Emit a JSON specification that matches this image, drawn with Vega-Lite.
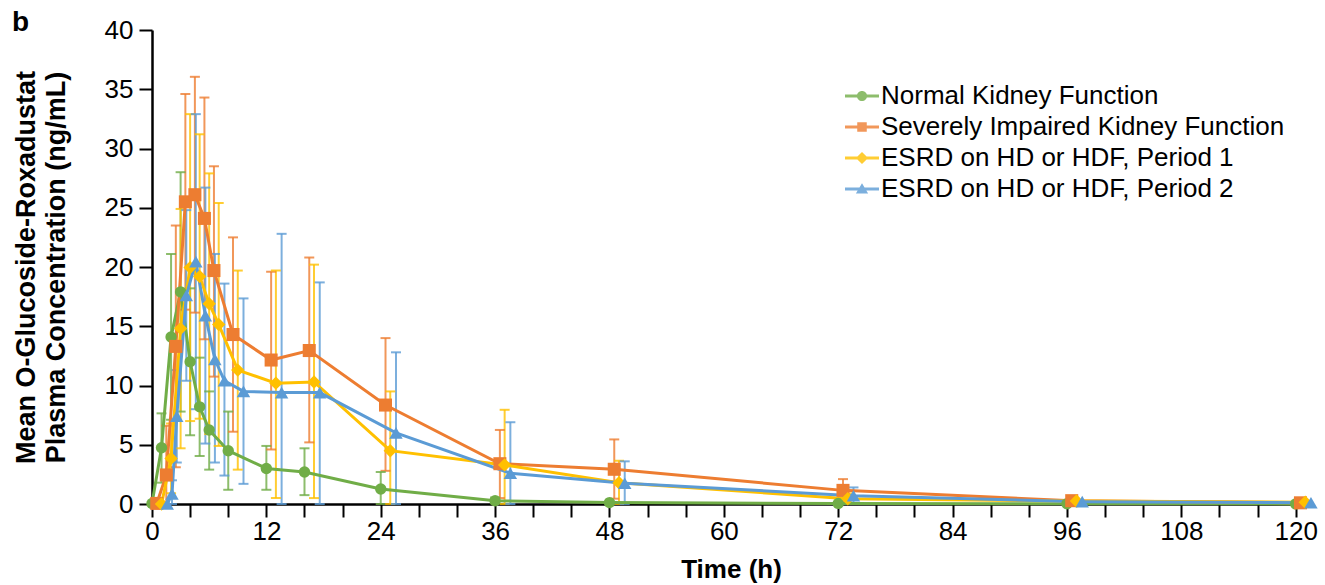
{
  "$schema": "https://vega.github.io/schema/vega-lite/v6.json",
  "width": 1158,
  "height": 474,
  "autosize": {"type": "none"},
  "padding": {"left": 152, "top": 30, "right": 15, "bottom": 81},
  "title": {"text": "b", "anchor": "start", "frame": "bounds", "fontSize": 28, "fontWeight": "bold", "font": "Liberation Sans", "offset": -20, "color": "#000"},
  "config": {
    "view": {"stroke": null},
    "font": "Liberation Sans",
    "axis": {"grid": false, "labelFlush": false, "domainColor": "#000", "tickColor": "#000", "labelColor": "#000", "titleColor": "#000", "domainWidth": 2.5, "tickWidth": 2, "tickSize": 13, "labelFontSize": 26, "titleFontSize": 26, "titleFontWeight": "bold", "labelFont": "Liberation Sans", "titleFont": "Liberation Sans"}
  },
  "data": {"values": [
    {"group": "Normal Kidney Function", "time": 0, "mean": 0.05, "lo": null, "hi": null},
    {"group": "Normal Kidney Function", "time": 1, "mean": 4.75, "lo": 1.8, "hi": 7.65},
    {"group": "Normal Kidney Function", "time": 2, "mean": 14.1, "lo": 7.1, "hi": 21.1},
    {"group": "Normal Kidney Function", "time": 3, "mean": 17.9, "lo": 7.8, "hi": 28.0},
    {"group": "Normal Kidney Function", "time": 4, "mean": 12.0, "lo": 5.8, "hi": 18.2},
    {"group": "Normal Kidney Function", "time": 5, "mean": 8.2, "lo": 4.05, "hi": 12.35},
    {"group": "Normal Kidney Function", "time": 6, "mean": 6.25, "lo": 2.9, "hi": 9.5},
    {"group": "Normal Kidney Function", "time": 8, "mean": 4.5, "lo": 1.2, "hi": 7.8},
    {"group": "Normal Kidney Function", "time": 12, "mean": 3.0, "lo": 1.2, "hi": 4.9},
    {"group": "Normal Kidney Function", "time": 16, "mean": 2.7, "lo": 0.75, "hi": 4.7},
    {"group": "Normal Kidney Function", "time": 24, "mean": 1.27, "lo": 0, "hi": 2.7},
    {"group": "Normal Kidney Function", "time": 36, "mean": 0.28, "lo": 0.05, "hi": 0.55},
    {"group": "Normal Kidney Function", "time": 48, "mean": 0.12, "lo": null, "hi": null},
    {"group": "Normal Kidney Function", "time": 72, "mean": 0.05, "lo": null, "hi": null},
    {"group": "Normal Kidney Function", "time": 96, "mean": 0.02, "lo": null, "hi": null},
    {"group": "Normal Kidney Function", "time": 120, "mean": 0.01, "lo": null, "hi": null},
    {"group": "Severely Impaired Kidney Function", "time": 0.5, "mean": 0.05, "lo": null, "hi": null},
    {"group": "Severely Impaired Kidney Function", "time": 1.5, "mean": 2.45, "lo": 0, "hi": 6.6},
    {"group": "Severely Impaired Kidney Function", "time": 2.5, "mean": 13.3, "lo": 3.1, "hi": 23.5},
    {"group": "Severely Impaired Kidney Function", "time": 3.5, "mean": 25.5, "lo": 16.4, "hi": 34.6},
    {"group": "Severely Impaired Kidney Function", "time": 4.5, "mean": 26.1, "lo": 16.15, "hi": 36.05},
    {"group": "Severely Impaired Kidney Function", "time": 5.5, "mean": 24.1, "lo": 13.9, "hi": 34.3},
    {"group": "Severely Impaired Kidney Function", "time": 6.5, "mean": 19.7, "lo": 10.75, "hi": 28.5},
    {"group": "Severely Impaired Kidney Function", "time": 8.5, "mean": 14.3, "lo": 6.1, "hi": 22.5},
    {"group": "Severely Impaired Kidney Function", "time": 12.5, "mean": 12.15, "lo": 4.6, "hi": 19.6},
    {"group": "Severely Impaired Kidney Function", "time": 16.5, "mean": 12.95, "lo": 5.2, "hi": 20.8},
    {"group": "Severely Impaired Kidney Function", "time": 24.5, "mean": 8.35, "lo": 2.8, "hi": 14.0},
    {"group": "Severely Impaired Kidney Function", "time": 36.5, "mean": 3.4, "lo": 0.5, "hi": 6.25},
    {"group": "Severely Impaired Kidney Function", "time": 48.5, "mean": 2.93, "lo": 0.45, "hi": 5.45},
    {"group": "Severely Impaired Kidney Function", "time": 72.5, "mean": 1.15, "lo": 0.2, "hi": 2.1},
    {"group": "Severely Impaired Kidney Function", "time": 96.5, "mean": 0.28, "lo": null, "hi": null},
    {"group": "Severely Impaired Kidney Function", "time": 120.5, "mean": 0.1, "lo": null, "hi": null},
    {"group": "ESRD on HD or HDF, Period 1", "time": 1, "mean": 0.0, "lo": null, "hi": null},
    {"group": "ESRD on HD or HDF, Period 1", "time": 2, "mean": 3.85, "lo": 0.9, "hi": 6.8},
    {"group": "ESRD on HD or HDF, Period 1", "time": 3, "mean": 14.8, "lo": 4.7, "hi": 24.9},
    {"group": "ESRD on HD or HDF, Period 1", "time": 4, "mean": 19.95, "lo": 7.0, "hi": 32.9},
    {"group": "ESRD on HD or HDF, Period 1", "time": 5, "mean": 19.2, "lo": 7.2, "hi": 31.2},
    {"group": "ESRD on HD or HDF, Period 1", "time": 6, "mean": 16.9, "lo": 5.9, "hi": 27.9},
    {"group": "ESRD on HD or HDF, Period 1", "time": 7, "mean": 15.15, "lo": 4.9, "hi": 25.4},
    {"group": "ESRD on HD or HDF, Period 1", "time": 9, "mean": 11.3, "lo": 2.9, "hi": 19.7},
    {"group": "ESRD on HD or HDF, Period 1", "time": 13, "mean": 10.2, "lo": 0.5, "hi": 19.7},
    {"group": "ESRD on HD or HDF, Period 1", "time": 17, "mean": 10.3, "lo": 0.5, "hi": 20.2},
    {"group": "ESRD on HD or HDF, Period 1", "time": 25, "mean": 4.5, "lo": 0, "hi": 9.5},
    {"group": "ESRD on HD or HDF, Period 1", "time": 37, "mean": 3.3, "lo": 0, "hi": 7.95},
    {"group": "ESRD on HD or HDF, Period 1", "time": 49, "mean": 1.8, "lo": 0, "hi": 3.65},
    {"group": "ESRD on HD or HDF, Period 1", "time": 73, "mean": 0.45, "lo": 0.05, "hi": 0.9},
    {"group": "ESRD on HD or HDF, Period 1", "time": 97, "mean": 0.25, "lo": null, "hi": null},
    {"group": "ESRD on HD or HDF, Period 1", "time": 121, "mean": 0.15, "lo": null, "hi": null},
    {"group": "ESRD on HD or HDF, Period 2", "time": 1.6, "mean": 0.0, "lo": null, "hi": null},
    {"group": "ESRD on HD or HDF, Period 2", "time": 2.1, "mean": 0.85, "lo": 0, "hi": 2.0},
    {"group": "ESRD on HD or HDF, Period 2", "time": 2.6, "mean": 7.4, "lo": 3.5, "hi": 11.3},
    {"group": "ESRD on HD or HDF, Period 2", "time": 3.6, "mean": 17.6, "lo": 10.4, "hi": 24.8},
    {"group": "ESRD on HD or HDF, Period 2", "time": 4.6, "mean": 20.45, "lo": 8.0, "hi": 32.9},
    {"group": "ESRD on HD or HDF, Period 2", "time": 5.6, "mean": 15.9, "lo": 5.1, "hi": 26.7},
    {"group": "ESRD on HD or HDF, Period 2", "time": 6.6, "mean": 12.2, "lo": 3.5, "hi": 21.1},
    {"group": "ESRD on HD or HDF, Period 2", "time": 7.6, "mean": 10.4, "lo": 2.4, "hi": 18.6},
    {"group": "ESRD on HD or HDF, Period 2", "time": 9.6, "mean": 9.5, "lo": 1.7, "hi": 17.35},
    {"group": "ESRD on HD or HDF, Period 2", "time": 13.6, "mean": 9.4, "lo": 0, "hi": 22.8},
    {"group": "ESRD on HD or HDF, Period 2", "time": 17.6, "mean": 9.4, "lo": 0, "hi": 18.7},
    {"group": "ESRD on HD or HDF, Period 2", "time": 25.6, "mean": 6.0, "lo": 0, "hi": 12.8},
    {"group": "ESRD on HD or HDF, Period 2", "time": 37.6, "mean": 2.6, "lo": 0, "hi": 6.9},
    {"group": "ESRD on HD or HDF, Period 2", "time": 49.6, "mean": 1.75, "lo": 0, "hi": 3.6},
    {"group": "ESRD on HD or HDF, Period 2", "time": 73.6, "mean": 0.7, "lo": 0, "hi": 1.4},
    {"group": "ESRD on HD or HDF, Period 2", "time": 97.6, "mean": 0.2, "lo": null, "hi": null},
    {"group": "ESRD on HD or HDF, Period 2", "time": 121.6, "mean": 0.1, "lo": null, "hi": null}
  ]},
  "encoding": {
    "x": {"field": "time", "type": "quantitative", "scale": {"domain": [0, 121.5], "nice": false},
      "axis": {"title": "Time (h)", "values": [0,4,8,12,16,20,24,28,32,36,40,44,48,52,56,60,64,68,72,76,80,84,88,92,96,100,104,108,112,116,120], "labelExpr": "datum.value % 12 === 0 ? datum.label : ''", "labelOverlap": false, "labelPadding": 1, "titlePadding": 12}},
    "color": {"field": "group", "type": "nominal",
      "scale": {"domain": ["Normal Kidney Function", "Severely Impaired Kidney Function", "ESRD on HD or HDF, Period 1", "ESRD on HD or HDF, Period 2"], "range": ["#70AD47", "#ED7D31", "#FFC000", "#5B9BD5"]},
      "legend": {"title": null, "orient": "none", "legendX": 693, "legendY": 49, "padding": 0, "labelFontSize": 26, "labelFont": "Liberation Sans", "labelColor": "#000", "symbolSize": 1156, "symbolStrokeWidth": 0, "rowPadding": 1, "labelOffset": 2, "labelLimit": 600}}
  },
  "layer": [
    {"mark": {"type": "rule", "strokeWidth": 2, "opacity": 0.8},
     "encoding": {"y": {"field": "lo", "type": "quantitative"}, "y2": {"field": "hi"}}},
    {"mark": {"type": "tick", "orient": "horizontal", "size": 10, "thickness": 2, "opacity": 0.8},
     "encoding": {"y": {"field": "lo", "type": "quantitative"}}},
    {"mark": {"type": "tick", "orient": "horizontal", "size": 10, "thickness": 2, "opacity": 0.8},
     "encoding": {"y": {"field": "hi", "type": "quantitative"}}},
    {"mark": {"type": "line", "strokeWidth": 3},
     "encoding": {"y": {"field": "mean", "type": "quantitative", "scale": {"domain": [0, 40], "nice": false},
       "axis": {"title": ["Mean O-Glucoside-Roxadustat", "Plasma Concentration (ng/mL)"], "values": [0,5,10,15,20,25,30,35,40], "titlePadding": 34, "titleLineHeight": 30, "titleFontSize": 27, "labelPadding": 6}}}},
    {"transform": [{"filter": "datum.group === 'Normal Kidney Function'"}],
     "mark": {"type": "point", "filled": true, "opacity": 1, "shape": "circle", "size": 130},
     "encoding": {"y": {"field": "mean", "type": "quantitative"}}},
    {"transform": [{"filter": "datum.group === 'Severely Impaired Kidney Function'"}],
     "mark": {"type": "point", "filled": true, "opacity": 1, "shape": "square", "size": 170},
     "encoding": {"y": {"field": "mean", "type": "quantitative"}}},
    {"transform": [{"filter": "datum.group === 'ESRD on HD or HDF, Period 1'"}],
     "mark": {"type": "point", "filled": true, "opacity": 1, "shape": "diamond", "size": 180},
     "encoding": {"y": {"field": "mean", "type": "quantitative"}}},
    {"transform": [{"filter": "datum.group === 'ESRD on HD or HDF, Period 2'"}],
     "mark": {"type": "point", "filled": true, "opacity": 1, "shape": "triangle-up", "size": 180},
     "encoding": {"y": {"field": "mean", "type": "quantitative"}}},
    {"transform": [{"filter": "false"}],
     "mark": {"type": "point", "filled": true, "opacity": 1},
     "encoding": {"y": {"field": "mean", "type": "quantitative"},
       "shape": {"field": "group", "type": "nominal",
         "scale": {"domain": ["Normal Kidney Function", "Severely Impaired Kidney Function", "ESRD on HD or HDF, Period 1", "ESRD on HD or HDF, Period 2"],
           "range": ["M-1,-0.09H1V0.09H-1ZM0.3,0A0.3,0.3 0 1 1 -0.3,0A0.3,0.3 0 1 1 0.3,0Z", "M-1,-0.09H1V0.09H-1ZM-0.28,-0.28H0.28V0.28H-0.28Z", "M-1,-0.09H1V0.09H-1ZM0,-0.36L0.36,0L0,0.36L-0.36,0Z", "M-1,-0.09H1V0.09H-1ZM0,-0.34L0.36,0.26H-0.36Z"]},
         "legend": {"title": null, "orient": "none", "legendX": 693, "legendY": 49, "padding": 0, "labelFontSize": 26, "labelFont": "Liberation Sans", "labelColor": "#000", "symbolSize": 1156, "symbolStrokeWidth": 0, "rowPadding": 1, "labelOffset": 2, "labelLimit": 600}}}}
  ]
}
